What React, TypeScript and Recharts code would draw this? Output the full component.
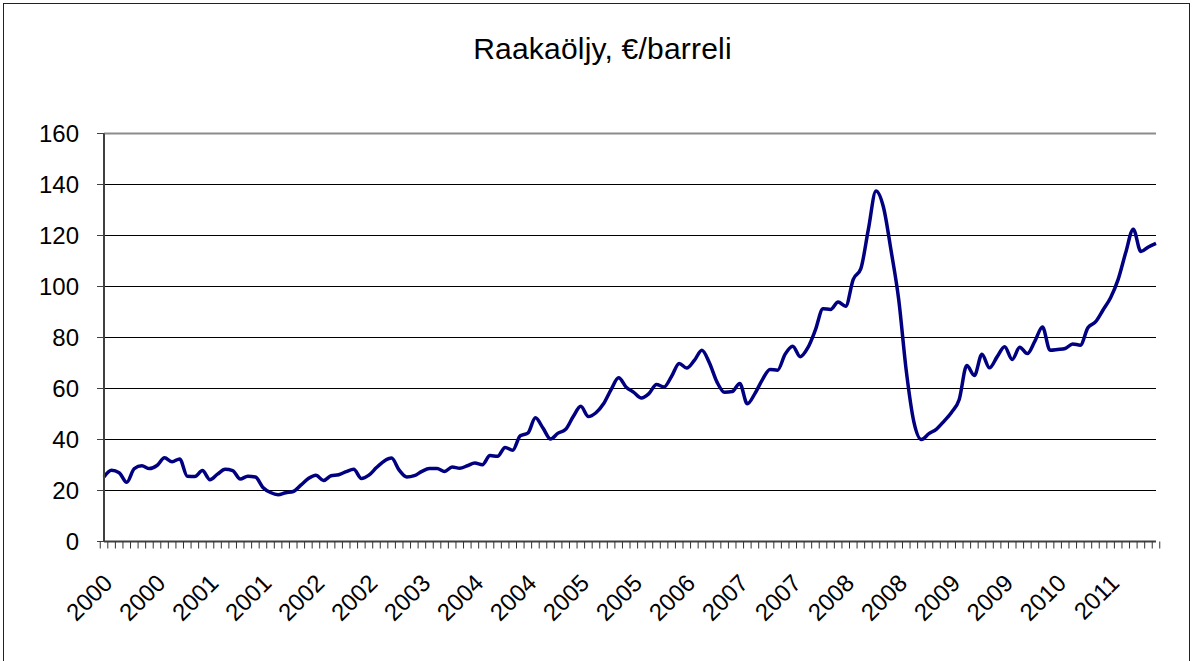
import { LineChart, Line, XAxis, YAxis, CartesianGrid, ReferenceLine } from 'recharts';

// Monthly crude oil price, Jan 2000 – Aug 2011 (€/barrel)
const startYear = 2000;
const monthCount = 140;
const months = Array.from({ length: monthCount }, (_, i) => {
  const y = startYear + Math.floor(i / 12);
  const m = (i % 12) + 1;
  return `${y}-${m < 10 ? '0' + m : m}`;
});

const prices = [
  25.3, 27.9, 27.0, 23.2, 28.6, 29.7, 28.6, 29.8, 32.8, 31.3, 32.4, 25.6,
  25.5, 27.8, 24.2, 26.4, 28.3, 27.8, 24.5, 25.6, 25.3, 21.2, 19.2, 18.3,
  19.1, 19.6, 22.1, 24.7, 26.0, 23.9, 25.8, 26.2, 27.4, 28.3, 24.7, 26.0,
  29.0, 31.5, 32.7, 28.0, 25.3, 25.8, 27.5, 28.6, 28.6, 27.5, 29.2, 28.7,
  29.7, 30.8, 30.1, 33.7, 33.4, 36.9, 35.8, 41.5, 42.5, 48.5, 44.5, 40.2,
  42.5, 44.0, 49.0, 53.0, 49.0, 50.5, 54.0, 59.6, 64.2, 60.5, 58.5, 56.3,
  58.0, 61.6, 60.6, 64.8, 69.8, 68.0, 71.0, 75.0, 70.0, 62.5, 58.5, 58.8,
  62.0, 54.0, 58.0, 63.5, 67.5, 67.2, 73.5, 76.6, 72.5, 76.0, 83.0, 91.3,
  91.0, 93.9, 92.3, 102.8, 107.0, 122.5, 137.5, 131.0, 114.0, 95.0, 67.0, 47.0,
  40.0, 42.3, 44.1, 47.2, 50.7, 55.7, 69.0, 65.1, 73.4, 68.1, 72.4, 76.4,
  71.4, 76.2, 73.7, 78.6, 84.1, 75.0, 75.3, 75.7, 77.5, 77.0, 83.8, 86.1,
  90.8, 95.6, 102.8, 113.3, 122.5, 113.7, 115.5, 116.9,
];

const yTicks = [0, 20, 40, 60, 80, 100, 120, 140, 160];
const labelEvery = 7;

const data = months.map((month, i) => ({ month, price: prices[i] }));

const W = 1194;
const H = 661;
const plotLeft = 104;
const plotRight = 1156;
const band = (plotRight - plotLeft) / monthCount;
const font = '"Liberation Sans", Arial, sans-serif';

function MonthTick(props: any) {
  const { x, y, index, payload } = props;
  const half = band / 2;
  const ax = x + 10;
  const ay = y + 43;
  return (
    <g>
      <line x1={x - half} x2={x - half} y1={y} y2={y + 7} stroke="#333" strokeWidth={1} />
      {index === monthCount - 1 && (
        <line x1={x + half} x2={x + half} y1={y} y2={y + 7} stroke="#333" strokeWidth={1} />
      )}
      {index % labelEvery === 0 && (
        <text
          x={ax}
          y={ay}
          textAnchor="end"
          transform={`rotate(-45, ${ax}, ${ay})`}
          fontSize={24}
          fontFamily={font}
          fill="#000"
        >
          {String(payload.value).slice(0, 4)}
        </text>
      )}
    </g>
  );
}

export default function App() {
  return (
    <div style={{ position: 'fixed', left: 0, top: 0, width: W, height: H, background: '#fff', overflow: 'hidden' }}>
      <div
        style={{
          position: 'absolute',
          left: 3,
          top: 3,
          width: 1187,
          height: 700,
          border: '1px solid #222',
          boxSizing: 'border-box',
        }}
      />
      <div
        style={{
          position: 'absolute',
          left: 0,
          width: 1205,
          top: 32,
          textAlign: 'center',
          fontFamily: font,
          fontSize: 30,
          letterSpacing: 0.2,
          color: '#000',
        }}
      >
        Raakaöljy, €/barreli
      </div>
      <div style={{ position: 'absolute', left: 0, top: 0 }}>
        <LineChart width={W} height={H} data={data} margin={{ top: 133.5, right: 38, bottom: 0, left: 0 }}>
          <CartesianGrid vertical={false} stroke="#000" strokeWidth={1} />
          <XAxis
            dataKey="month"
            interval={0}
            height={119.5}
            tickSize={0}
            tickMargin={0}
            tickLine={false}
            tick={<MonthTick />}
            axisLine={{ stroke: '#404040', strokeWidth: 2 }}
          />
          <YAxis
            domain={[0, 160]}
            ticks={yTicks}
            interval={0}
            width={104}
            tickSize={7}
            tickMargin={18}
            tickLine={{ stroke: '#404040' }}
            axisLine={{ stroke: '#404040', strokeWidth: 2 }}
            tick={{ fontSize: 24, fill: '#000', fontFamily: font }}
          />
          <YAxis
            yAxisId="r"
            orientation="right"
            width={0}
            domain={[0, 160]}
            tick={false}
            tickLine={false}
            axisLine={{ stroke: '#8c8c8c', strokeWidth: 2 }}
          />
          <ReferenceLine y={160} stroke="#8c8c8c" strokeWidth={2} />
          <Line
            type="monotone"
            dataKey="price"
            stroke="#000080"
            strokeWidth={3.5}
            dot={false}
            isAnimationActive={false}
          />
        </LineChart>
      </div>
    </div>
  );
}
